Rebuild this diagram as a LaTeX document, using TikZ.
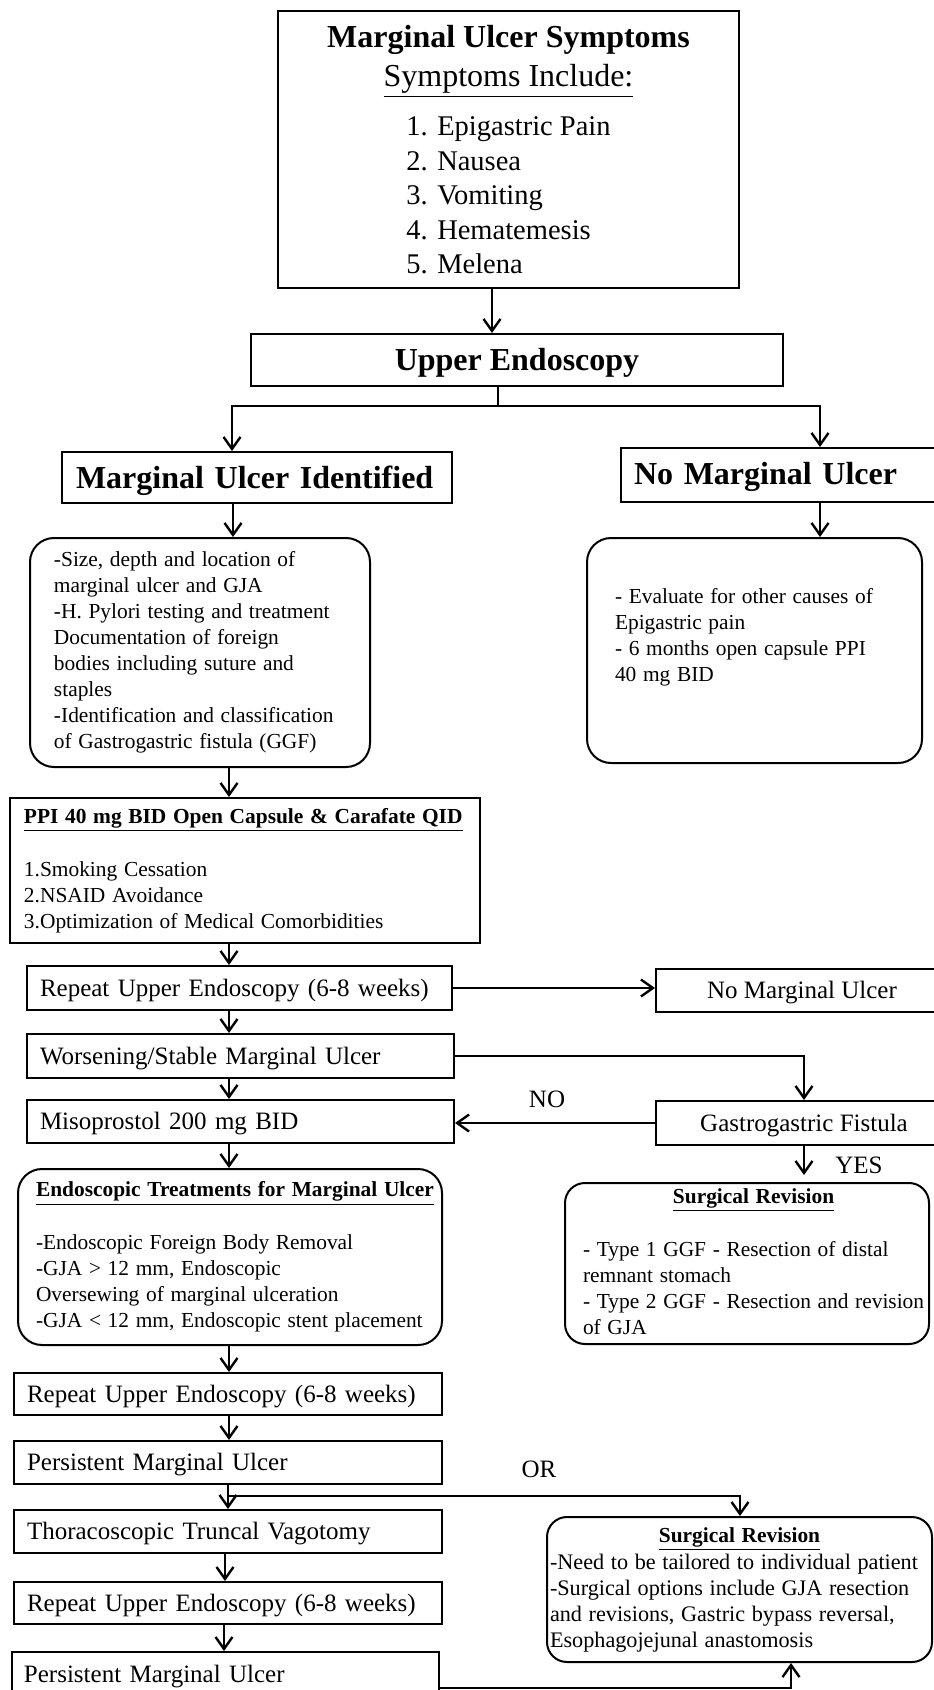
\documentclass[tikz,border=0pt]{standalone}
\usepackage{fontspec}
\setmainfont{Liberation Serif}
\usetikzlibrary{arrows.meta,calc}
\newcommand\fHead{\fontsize{16}{19.5}\selectfont}
\newcommand\fList{\fontsize{14.25}{17.25}\selectfont}
\newcommand\fMid{\fontsize{12.5}{15}\selectfont}
\newcommand\fBody{\fontsize{10.7}{13}\selectfont}
\newcommand\fBodyL{\fontsize{11.1}{13}\selectfont}
\begin{document}
\begin{tikzpicture}[x=0.5pt,y=-0.5pt,
  bx/.style={draw, line width=1pt, rectangle, inner ysep=0pt},
  rbx/.style={bx, rounded corners=12pt},
  con/.style={line width=1.2pt},
  arr/.style={con, -{Straight Barb[length=6pt,width=8.5pt]}},
  lbl/.style={font=\fMid, inner sep=0pt},
  one/.style={bx, font=\fMid, minimum height=#1, text height=8.25pt, text depth=0pt},
  head/.style={bx, font=\fHead\bfseries, text height=10.6pt, text depth=0pt},
]
\useasboundingbox (0,0) rectangle (933,1690);

% ---------- nodes ----------
\node[bx, minimum width=230.5pt, minimum height=138.5pt, inner sep=0pt] (sym) at (508.5,149.5)
 {\fHead\begin{tabular}{@{}c@{}}\rule{0pt}{16.6pt}\bfseries Marginal Ulcer Symptoms\\
   \underline{Symptoms Include:}\\[5pt]
   \fList\begin{tabular}[t]{@{}l@{}}1. Epigastric Pain\\2. Nausea\\3. Vomiting\\4. Hematemesis\\5. Melena\end{tabular}
  \end{tabular}};

\node[head, minimum width=266pt, minimum height=26pt, inner sep=0pt] (ue) at (517,360) {Upper Endoscopy};

\node[head, text width=181pt, inner xsep=7pt, minimum height=25.5pt] (mui) at (257,477.5)
 {\noindent\mbox{Marginal Ulcer Identified}};

\node[head, text width=157pt, inner xsep=6.5pt, minimum height=27pt, text height=9pt] (nmu) at (791,475)
 {\noindent\mbox{No Marginal Ulcer}};

\node[rbx, text width=146pt, inner xsep=12pt, minimum height=114.5pt] (d1) at (200,652.5)
 {\noindent\fBody\begin{tabular}{@{}l@{}}
  -Size, depth and location of\\
  marginal ulcer and GJA\\
  -H. Pylori testing and treatment\\
  Documentation of foreign\\
  bodies including suture and\\
  staples\\
  -Identification and classification\\
  of Gastrogastric fistula (GGF)
 \end{tabular}};

\node[rbx, text width=139.5pt, inner xsep=14pt, minimum height=112.5pt] (d2) at (754.5,650.5)
 {\noindent\fBody\begin{tabular}{@{}l@{}}
  - Evaluate for other causes of\\
  Epigastric pain\\
  - 6 months open capsule PPI\\
  40 mg BID\\
  \mbox{}
 \end{tabular}};

\node[bx, text width=221pt, inner xsep=7pt, minimum height=72.5pt] (ppi) at (245,870.5)
 {\noindent\fBody\begin{tabular}{@{}l@{}}
  \multicolumn{1}{@{}c@{}}{\bfseries\underline{PPI 40 mg BID Open Capsule \& Carafate QID}}\\
  \mbox{}\\
  1.Smoking Cessation\\
  2.NSAID Avoidance\\
  3.Optimization of Medical Comorbidities
 \end{tabular}};

\node[one=22pt, text width=199.5pt, inner xsep=6.5pt] (rep1) at (239.5,988)
 {\noindent\mbox{Repeat Upper Endoscopy (6-8 weeks)}};

\node[one=21.5pt, minimum width=146pt, inner xsep=0pt] (nmu2) at (802,990.5) {No Marginal Ulcer};

\node[one=22pt, text width=200.5pt, inner xsep=6.5pt] (wor) at (240.5,1056)
 {\noindent\mbox{Worsening/Stable Marginal Ulcer}};

\node[one=22pt, minimum width=148pt, inner xsep=0pt] (gg) at (804,1123) {Gastrogastric Fistula};

\node[one=21.5pt, text width=200.5pt, inner xsep=6.5pt] (mis) at (240.5,1121.5)
 {\noindent\mbox{Misoprostol 200 mg BID}};

\node[rbx, text width=194pt, inner xsep=9pt, minimum height=88pt] (endo) at (230,1257)
 {\noindent\fBody\begin{tabular}{@{}l@{}}
  \multicolumn{1}{@{}c@{}}{\bfseries\underline{Endoscopic Treatments for Marginal Ulcer}}\\
  \mbox{}\\
  -Endoscopic Foreign Body Removal\\
  -GJA > 12 mm, Endoscopic\\
  Oversewing of marginal ulceration\\
  -GJA < 12 mm, Endoscopic stent placement
 \end{tabular}};

\node[bx, rounded corners=10pt, text width=164pt, inner xsep=9pt, minimum height=80.5pt] (sr1) at (747,1263.5)
 {\noindent\fBody\begin{tabular}{@{}l@{}}
  \multicolumn{1}{@{}c@{}}{\bfseries\underline{Surgical Revision}}\\
  \mbox{}\\
  - Type 1 GGF - Resection of distal\\
  remnant stomach\\
  - Type 2 GGF - Resection and revision\\
  of GJA
 \end{tabular}};

\node[one=21pt, text width=201pt, inner xsep=6.5pt] (rep2) at (228,1394)
 {\noindent\mbox{Repeat Upper Endoscopy (6-8 weeks)}};

\node[one=21.5pt, text width=201pt, inner xsep=6.5pt] (per1) at (228,1462.5)
 {\noindent\mbox{Persistent Marginal Ulcer}};

\node[one=21.5pt, text width=201pt, inner xsep=6.5pt] (tho) at (228,1531.5)
 {\noindent\mbox{Thoracoscopic Truncal Vagotomy}};

\node[one=21pt, text width=201pt, inner xsep=6.5pt] (rep3) at (228,1603)
 {\noindent\mbox{Repeat Upper Endoscopy (6-8 weeks)}};

\node[one=22pt, text width=201.5pt, inner xsep=6pt] (per2) at (225.5,1674)
 {\noindent\mbox{Persistent Marginal Ulcer}};

\node[bx, rounded corners=10pt, text width=189.5pt, inner xsep=1.5pt, minimum height=72.5pt] (sr2) at (739.5,1589.5)
 {\noindent\fBodyL\begin{tabular}{@{}l@{}}
  \multicolumn{1}{@{}l@{}}{\makebox[189.5pt][c]{\fBody\bfseries\underline{Surgical Revision}}}\\
  -Need to be tailored to individual patient\\
  -Surgical options include GJA resection\\
  and revisions, Gastric bypass reversal,\\
  Esophagojejunal anastomosis
 \end{tabular}};

% labels
\node[lbl] (lno) at (547,1099) {NO};
\node[lbl] (lyes) at (859,1165) {YES};
\node[lbl] (lor) at (539,1469) {OR};

% ---------- connectors ----------
\coordinate (c1) at (492,0);
\draw[arr] (sym.south -| c1) -- (ue.north -| c1);

\coordinate (j) at (498,406);
\coordinate (jl) at (232,406);
\coordinate (jr) at (820,406);
\draw[con] (ue.south -| j) -- (j);
\draw[arr] (j) -| (mui.north -| jl);
\draw[arr] (j) -| (nmu.north -| jr);

\coordinate (c2) at (233,0);
\draw[arr] (mui.south -| c2) -- (d1.north -| c2);
\draw[arr] (nmu.south -| jr) -- (d2.north -| jr);

\coordinate (c3) at (229,0);
\draw[arr] (d1.south -| c3) -- (ppi.north -| c3);
\draw[arr] (ppi.south -| c3) -- (rep1.north -| c3);
\draw[arr] (rep1.east) -- (nmu2.west |- rep1.east);
\draw[arr] (rep1.south -| c3) -- (wor.north -| c3);
\draw[arr] (wor.east) -| (gg.north);
\draw[arr] (wor.south -| c3) -- (mis.north -| c3);
\draw[arr] (gg.west) -- (mis.east |- gg.west);
\coordinate (yy) at ([yshift=3.5pt]sr1.north);
\draw[arr] (gg.south) -- (gg.south |- yy);
\draw[arr] (mis.south -| c3) -- (endo.north -| c3);
\draw[arr] (endo.south -| c3) -- (rep2.north -| c3);
\draw[arr] (rep2.south -| c3) -- (per1.north -| c3);

\coordinate (k) at (228,1496);
\draw[arr] (per1.south -| k) -- (tho.north -| k);
\draw[arr] (k) -| (sr2.north -| 740,0);

\coordinate (c4) at (225,0);
\draw[arr] (tho.south -| c4) -- (rep3.north -| c4);
\coordinate (c5) at (224,0);
\draw[arr] (rep3.south -| c5) -- (per2.north -| c5);

\coordinate (b) at (439,1688);
\draw[arr] (b) -| (sr2.south -| 791,0);
\end{tikzpicture}
\end{document}
